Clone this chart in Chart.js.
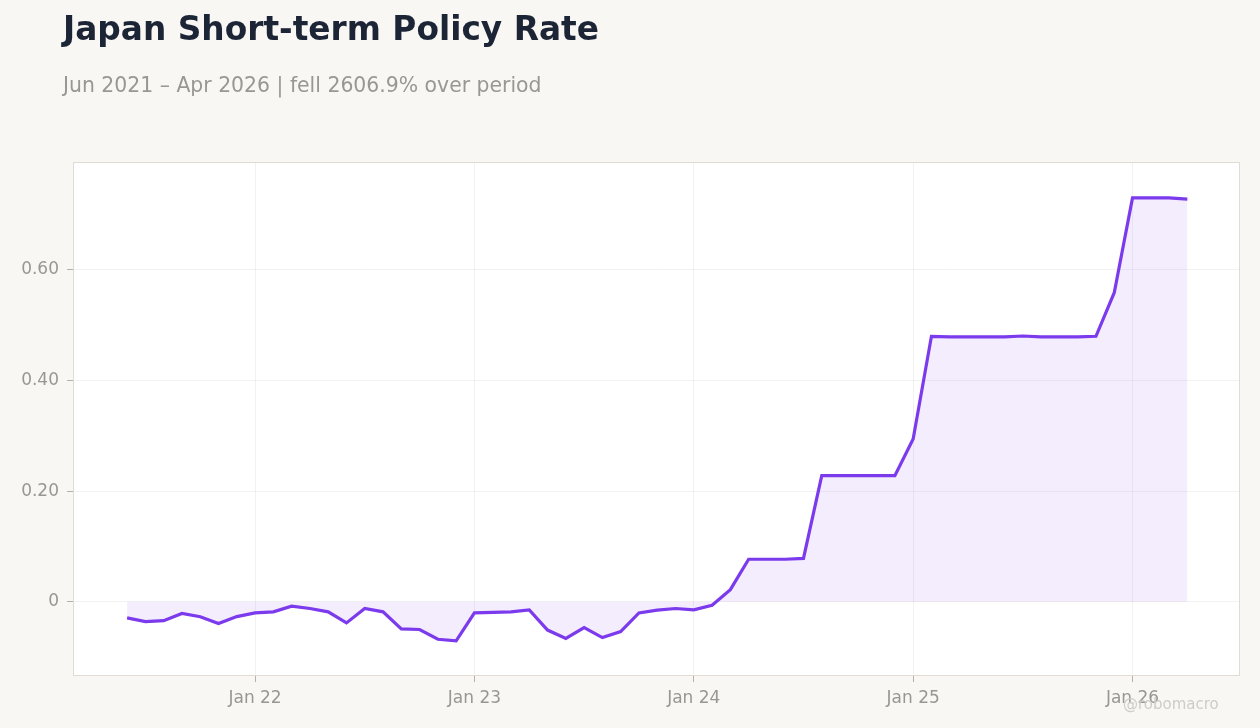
<!DOCTYPE html>
<html>
<head>
<meta charset="utf-8">
<script src="https://cdn.jsdelivr.net/npm/chart.js@4.4.1/dist/chart.umd.min.js"></script>
<style>
    html, body { margin: 0; padding: 0; background: #f8f7f4; }
    body { width: 1260px; height: 728px; position: relative; overflow: hidden; font-family: "DejaVu Sans", sans-serif; }
    #titulo { position: absolute; left: 63px; top: 10px; font-size: 32.8px; font-weight: bold; color: #1c2536; white-space: nowrap; }
    #subtitulo { position: absolute; left: 63px; top: 73px; font-size: 20.4px; color: #9a9792; white-space: nowrap; }
    #marca { position: absolute; left: 1123px; top: 695px; font-size: 15px; color: #cfccc7; white-space: nowrap; }
    #caixa { position: absolute; left: 0; top: 0; width: 1260px; height: 728px; }
</style>
</head>
<body>
<div id="caixa"><canvas id="graficoTaxa"></canvas></div>
<div id="titulo">Japan Short-term Policy Rate</div>
<div id="subtitulo">Jun 2021 – Apr 2026 | fell 2606.9% over period</div>
<div id="marca">@robomacro</div>
<script>
// Meses da série (ano-mês)
const meses = [
    '2021-06', '2021-07', '2021-08', '2021-09', '2021-10', '2021-11', '2021-12',
    '2022-01', '2022-02', '2022-03', '2022-04', '2022-05', '2022-06', '2022-07', '2022-08', '2022-09', '2022-10', '2022-11', '2022-12',
    '2023-01', '2023-02', '2023-03', '2023-04', '2023-05', '2023-06', '2023-07', '2023-08', '2023-09', '2023-10', '2023-11', '2023-12',
    '2024-01', '2024-02', '2024-03', '2024-04', '2024-05', '2024-06', '2024-07', '2024-08', '2024-09', '2024-10', '2024-11', '2024-12',
    '2025-01', '2025-02', '2025-03', '2025-04', '2025-05', '2025-06', '2025-07', '2025-08', '2025-09', '2025-10', '2025-11', '2025-12',
    '2026-01', '2026-02', '2026-03', '2026-04'
];

// Taxa de curto prazo (%)
const taxa = [
    -0.029, -0.0356, -0.034, -0.021, -0.027, -0.039, -0.0266,
    -0.020, -0.018, -0.0078, -0.012, -0.018, -0.038, -0.012, -0.018, -0.049, -0.050, -0.0676, -0.0706,
    -0.020, -0.019, -0.018, -0.0145, -0.051, -0.066, -0.0465, -0.0646, -0.0537, -0.020, -0.015, -0.012,
    -0.0145, -0.006, 0.022, 0.077, 0.077, 0.077, 0.0785, 0.228, 0.228, 0.228, 0.228, 0.228,
    0.2945, 0.480, 0.479, 0.479, 0.479, 0.479, 0.4805, 0.479, 0.479, 0.479, 0.480, 0.5587,
    0.730, 0.730, 0.730, 0.728
];

// Marcas dos eixos
const ticksX = [2022, 2023, 2024, 2025, 2026];
const rotulosX = ['Jan 22', 'Jan 23', 'Jan 24', 'Jan 25', 'Jan 26'];
const ticksY = [0, 0.2, 0.4, 0.6];

// Converte 'AAAA-MM' em ano decimal
function anoDecimal(mes) {
    const [ano, m] = mes.split('-').map(Number);
    return ano + (m - 1) / 12;
}

const pontos = meses.map((mes, i) => ({ x: anoDecimal(mes), y: taxa[i] }));

// Fundo branco e moldura em volta da área do gráfico
const moldura = {
    id: 'moldura',
    beforeDraw(chart) {
        const { ctx, chartArea: a } = chart;
        ctx.save();
        ctx.fillStyle = '#ffffff';
        ctx.fillRect(a.left, a.top, a.right - a.left, a.bottom - a.top);
        ctx.restore();
    },
    afterDraw(chart) {
        const { ctx, chartArea: a } = chart;
        ctx.save();
        ctx.strokeStyle = '#e0dcd5';
        ctx.lineWidth = 1;
        ctx.strokeRect(a.left + 0.5, a.top + 0.5, a.right - a.left - 1, a.bottom - a.top - 1);
        ctx.restore();
    }
};

const ctx = document.getElementById('graficoTaxa').getContext('2d');
new Chart(ctx, {
    type: 'line',
    data: {
        datasets: [{
            label: 'Short-term Policy Rate',
            data: pontos,
            borderColor: '#7c3aed',
            borderWidth: 3.2,
            backgroundColor: 'rgba(124, 58, 237, 0.09)',
            fill: 'origin',
            pointRadius: 0,
            tension: 0
        }]
    },
    options: {
        responsive: true,
        maintainAspectRatio: false,
        animation: false,
        layout: { padding: { left: 0, top: 162, right: 20, bottom: 0 } },
        scales: {
            x: {
                type: 'linear',
                min: 2021.17,
                max: 2026.49,
                afterBuildTicks: scale => { scale.ticks = ticksX.map(v => ({ value: v })); },
                afterFit: scale => { scale.height = 52; },
                ticks: {
                    callback: value => rotulosX[ticksX.indexOf(value)] || '',
                    color: '#9a9792',
                    font: { family: 'DejaVu Sans', size: 17 },
                    padding: 6,
                    maxRotation: 0
                },
                grid: { color: 'rgba(0,0,0,0.05)', tickColor: '#b5b1aa', tickLength: 6 },
                border: { display: false }
            },
            y: {
                min: -0.134,
                max: 0.795,
                afterBuildTicks: scale => { scale.ticks = ticksY.map(v => ({ value: v })); },
                afterFit: scale => { scale.width = 73; },
                ticks: {
                    callback: value => value === 0 ? '0' : value.toFixed(2),
                    color: '#9a9792',
                    font: { family: 'DejaVu Sans', size: 17 },
                    padding: 8
                },
                grid: { color: 'rgba(0,0,0,0.05)', tickColor: '#b5b1aa', tickLength: 6 },
                border: { display: false }
            }
        },
        plugins: {
            legend: { display: false },
            tooltip: { enabled: false }
        }
    },
    plugins: [moldura]
});
</script>
</body>
</html>
